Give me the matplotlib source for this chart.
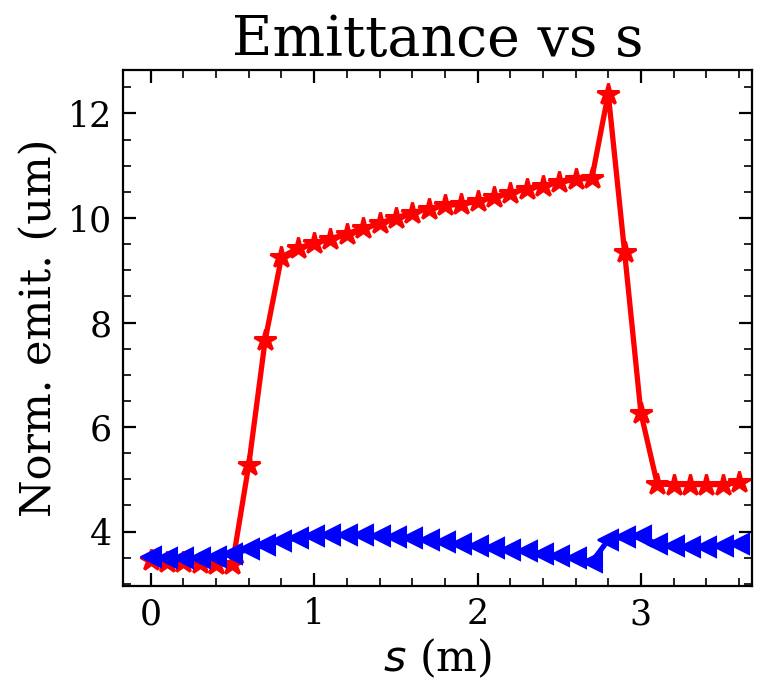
import matplotlib
matplotlib.use("Agg")
import matplotlib.pyplot as plt
from matplotlib.ticker import MultipleLocator

plt.rcParams['font.family'] = ['DejaVu Serif']

s = [0.0, 0.1, 0.2, 0.3, 0.4, 0.5, 0.6, 0.7, 0.8, 0.9,
     1.0, 1.1, 1.2, 1.3, 1.4, 1.5, 1.6, 1.7, 1.8, 1.9,
     2.0, 2.1, 2.2, 2.3, 2.4, 2.5, 2.6, 2.7, 2.8, 2.9,
     3.0, 3.1, 3.2, 3.3, 3.4, 3.5, 3.6]

emit_red = [3.45, 3.42, 3.41, 3.40, 3.39, 3.38, 5.28, 7.66, 9.25, 9.42,
            9.52, 9.60, 9.70, 9.80, 9.90, 10.00, 10.10, 10.18, 10.24, 10.26,
            10.32, 10.40, 10.48, 10.56, 10.62, 10.68, 10.74, 10.76, 12.38, 9.35,
            6.27, 4.91, 4.90, 4.90, 4.90, 4.90, 4.94]

emit_blue = [3.52, 3.49, 3.49, 3.49, 3.52, 3.58, 3.66, 3.75, 3.82, 3.88,
             3.92, 3.94, 3.94, 3.94, 3.92, 3.90, 3.87, 3.84, 3.80, 3.76,
             3.72, 3.68, 3.65, 3.62, 3.57, 3.53, 3.49, 3.42, 3.84, 3.90,
             3.91, 3.76, 3.72, 3.71, 3.71, 3.73, 3.77]

fig = plt.figure(figsize=(7.69, 6.82), dpi=100)
ax = fig.add_axes([123/769, 1-586/682, (752-123)/769, (586-70)/682])

ax.plot(s, emit_red, color='r', marker='*', markersize=16, markeredgewidth=2.2,
        linewidth=3.8)
ax.plot(s, emit_blue, color='b', marker='<', markersize=14.5, markeredgewidth=1.5,
        linewidth=3.8)

ax.set_xlim(-0.17, 3.68)
ax.set_ylim(2.96, 12.83)

ax.xaxis.set_major_locator(MultipleLocator(1))
ax.xaxis.set_minor_locator(MultipleLocator(0.2))
ax.yaxis.set_major_locator(MultipleLocator(2))
ax.yaxis.set_minor_locator(MultipleLocator(0.5))

ax.tick_params(which='both', direction='in', top=True, right=True, labelsize=25)
ax.tick_params(which='major', length=9.5, width=1.6, pad=8)
ax.tick_params(which='minor', length=5.5, width=1.2)
for sp in ax.spines.values():
    sp.set_linewidth(1.6)

ax.set_title('Emittance vs s', fontsize=40, pad=10)
ax.set_xlabel('$s$ (m)', fontsize=31, labelpad=4)
ax.set_ylabel('Norm. emit. (um)', fontsize=31, labelpad=5)

fig.savefig('out.png', dpi=100)
